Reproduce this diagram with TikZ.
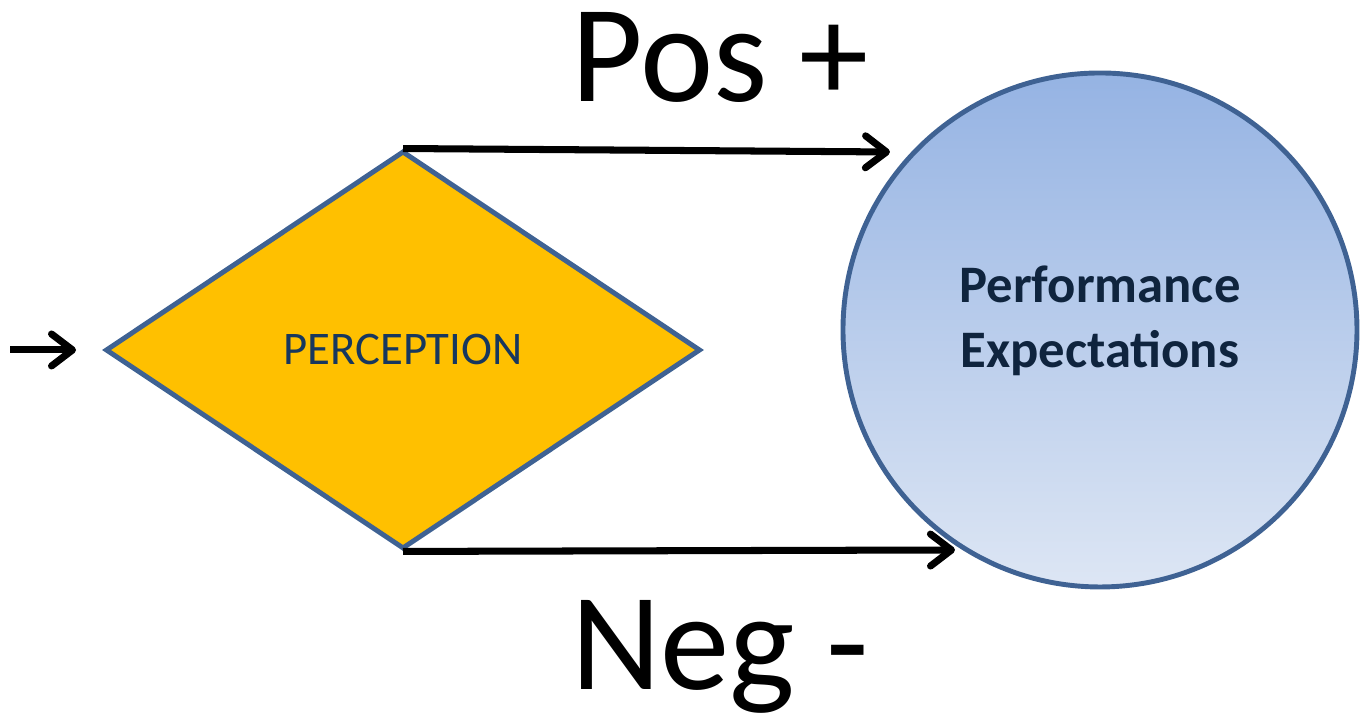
\documentclass[tikz,border=0pt]{standalone}
\usepackage{fontspec}
\setmainfont{Carlito}
\usetikzlibrary{arrows.meta,shapes.geometric}
\definecolor{edgeblue}{HTML}{3F6293}
\definecolor{gold}{HTML}{FFC000}
\definecolor{navy}{HTML}{17375E}
\definecolor{darknavy}{HTML}{0F243E}
\definecolor{circtop}{HTML}{95B3E3}
\definecolor{circbot}{HTML}{DDE6F4}

\begin{document}
\begin{tikzpicture}[>={Straight Barb[length=2.1mm,width=3.2mm,line cap=round,line join=round]},
  flow/.style={->,line width=2pt},
  bigword/.style={font=\fontsize{39.5}{46}\selectfont,anchor=base}]
  % canvas: 1px = 0.01cm, y measured from the bottom
  \useasboundingbox (0,0) rectangle (13.61,7.2);
  % decision shape
  \node[diamond,draw=edgeblue,line width=1.4pt,fill=gold,inner sep=0pt,
        minimum width=5.95cm,minimum height=3.98cm,
        font=\fontsize{13.3}{16}\selectfont,text=navy] (percept) at (4.03,3.70) {PERCEPTION};
  % target
  \node[circle,draw=edgeblue,line width=1.4pt,top color=circtop,bottom color=circbot,
        minimum size=5.14cm] (expect) at (11.00,3.90) {};
  \node[align=center,text=darknavy,font=\fontsize{15}{18.5}\selectfont\bfseries]
        (expecttext) at ([yshift=0.09cm]expect.center) {Performance\\Expectations};
  % loose ends
  \coordinate (in) at (0.10,3.70);
  \coordinate (posend) at (8.90,5.68);
  \coordinate (negend) at (9.55,1.70);
  % connectors
  \draw[flow] (in) -- ([xshift=-0.27cm]percept.west);
  \draw[flow] (percept.north) -- (posend);
  \draw[flow] (percept.south) -- (negend);
  % labels
  \node[bigword] (pos) at (7.20,6.18) {Pos +};
  \node[bigword] (neg) at (7.20,0.30) {Neg -};
\end{tikzpicture}
\end{document}
